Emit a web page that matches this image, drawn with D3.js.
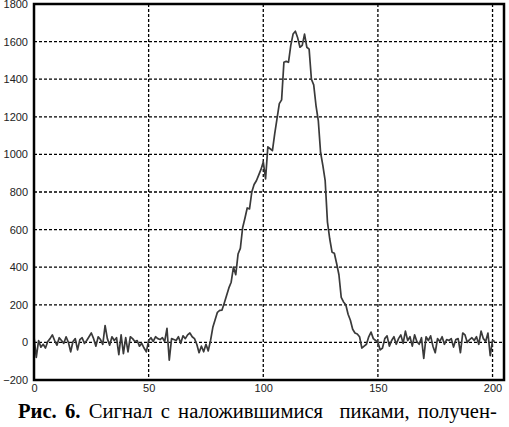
<!DOCTYPE html>
<html lang="ru">
<head>
<meta charset="utf-8">
<script src="https://d3js.org/d3.v7.min.js"></script>
<style>
  body { margin: 0; background: #fff; }
  .tick text { font-family: "Liberation Sans", Arial, sans-serif; font-size: 11px; fill: #222; }
  .caption { font-family: "Liberation Serif", "Times New Roman", serif; font-size: 20px; white-space: pre; word-spacing: 3px; }
</style>
</head>
<body>
<svg width="509" height="427"></svg>
<script>
// signal value for x = 0, 1, 2 ... 201
var signal = [
   30, -80,  10, -25, -10, -30,   5,  20,  40,  10,   // 0
  -15,  25,  10,  -5,  30,   0, -50,   5,  20, -40,   // 10
   15,  25,  -5,  10,  30,  50,  20, -20,  30,  15,   // 20
  -10,  90,  20, -15,  30,  10,  25, -65,  40, -60,   // 30
   25, -50,  30,  20,   5,  10, -20,  -5, -30, -50,   // 40
   10,  25,   5,  30,  20,  15,  25,   5,  75, -95,   // 50
   20,  15,  10,  30,  -5,  35,  20,  40,  50,  30,   // 60
   20, -10, -55, -20, -50, -10, -45,  10,  80, 120,   // 70
  160, 170, 172, 210, 250, 290, 320, 400, 360, 470,   // 80
  500, 610, 660, 715, 710, 800, 840, 860, 890, 920,   // 90
  960, 870,1040,1030,1020,1110,1190,1270,1290,1490,   // 100
 1495,1490,1580,1640,1655,1620,1570,1580,1640,1570,   // 110
 1560,1400,1370,1260,1180,1010, 940, 860, 640, 550,   // 120
  480, 474, 420, 360, 240, 215, 200, 150, 118,  70,   // 130
   50,  45,  30, -30, -20, -10,  30,  55,  20,  10,   // 140
    0, -40, -30,  20,  35, -20,  10,  30, -10,  20,   // 150
   40,  -5,  60,  10,  30, -20,  40,   5, -10,  25,   // 160
  -85,  30,  10,  35, -20, -55,  20,   5,  30, -10,   // 170
   15,  10,  20, -25,  15,  20, -55,  50,  40,   0,   // 180
   15,  25,  10,  30, -10,  60,  20,   5,  50, -70,   // 190
   10,   5                                            // 200
];
var xTicks = [0, 50, 100, 150, 200];
var yTicks = [-200, 0, 200, 400, 600, 800, 1000, 1200, 1400, 1600, 1800];

var pl = 34, pr = 504, pt = 4, pb = 380;
var svg = d3.select("svg");

var x = d3.scaleLinear().domain([0, 205]).range([pl, pr]);
var y = d3.scaleLinear().domain([-200, 1800]).range([pb, pt]);

// grid
svg.append("g").selectAll("line").data(yTicks).join("line")
  .attr("x1", pl).attr("x2", pr)
  .attr("y1", d => y(d)).attr("y2", d => y(d))
  .attr("stroke", "#000").attr("stroke-width", 1.3).attr("stroke-dasharray", "3,2");
svg.append("g").selectAll("line").data(xTicks).join("line")
  .attr("x1", d => x(d)).attr("x2", d => x(d))
  .attr("y1", pt).attr("y2", pb)
  .attr("stroke", "#000").attr("stroke-width", 1.3).attr("stroke-dasharray", "3,2");

// signal
var line = d3.line().x((d, i) => x(i)).y(d => y(d));
svg.append("path").datum(signal)
  .attr("d", line)
  .attr("fill", "none").attr("stroke", "#3a3a3a").attr("stroke-width", 1.7)
  .attr("stroke-linejoin", "round");

// frame
svg.append("rect")
  .attr("x", pl).attr("y", pt)
  .attr("width", pr - pl).attr("height", pb - pt)
  .attr("fill", "none").attr("stroke", "#000").attr("stroke-width", 2.5);

// axes labels
var ya = svg.append("g").attr("transform", "translate(" + pl + ",0)")
  .call(d3.axisLeft(y).tickValues(yTicks).tickFormat(d3.format("d")).tickSize(0).tickPadding(6));
ya.select(".domain").remove();
var xa = svg.append("g").attr("transform", "translate(0," + pb + ")")
  .call(d3.axisBottom(x).tickValues(xTicks).tickFormat(d3.format("d")).tickSize(0).tickPadding(4));
xa.select(".domain").remove();

// caption, widened to the printed width (the scan is a bit stretched)
var cap = svg.append("text").attr("class", "caption").attr("x", 0).attr("y", 0);
cap.append("tspan").attr("font-weight", "bold").text("Рис. 6.");
cap.append("tspan").text(" Сигнал с наложившимися  пиками, получен-");
var w = cap.node().getComputedTextLength();
cap.attr("transform", "translate(18,418) scale(" + (479 / w) + ",1)");
</script>
</body>
</html>
